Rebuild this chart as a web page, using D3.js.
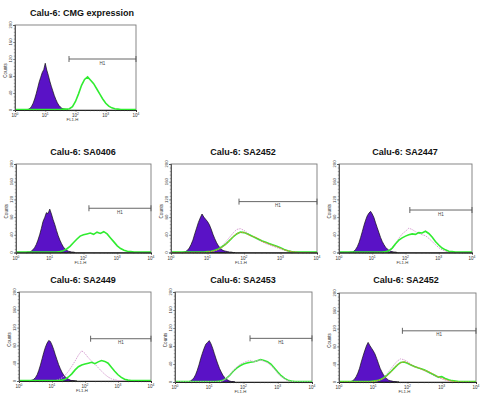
<!DOCTYPE html>
<html><head><meta charset="utf-8">
<script src="https://cdn.jsdelivr.net/npm/d3@7"></script>
<style>body{margin:0;background:#fff}</style>
</head><body><svg id="c" width="493" height="405"></svg>
<script>
// ---------- DATA ----------
const titles = ["Calu-6: CMG expression","Calu-6: SA0406","Calu-6: SA2452","Calu-6: SA2447","Calu-6: SA2449","Calu-6: SA2453","Calu-6: SA2452"];
const xTickExponents = ["0","1","2","3","4"];
const yTicks = [0,40,80,120,160,200];
const xAxisLabel = "FL1-H";
const yAxisLabel = "Counts";
const gateLabel = "H1";

// purple (control) histograms: bins every 0.05 decade starting at 10^0.3
const purpleStartLog = 0.3, purpleStepLog = 0.05;
const purple1 = [0,1,1,2,4,9,16,26,38,52,66,77,88,95,110,94,82,68,56,45,34,25,17,11,7,4,3,2,1,0];
const purple2 = [0,1,1,3,6,11,18,28,40,54,70,79,90,88,98,87,74,63,50,38,28,20,13,8,5,3,2,1,1,0];
const purple3 = [0,1,2,5,10,18,28,42,55,68,78,87,80,75,70,63,53,41,31,22,15,10,6,4,3,2,1,1,0,0];
const purple4 = [0,1,1,3,7,13,22,34,47,61,73,83,89,93,87,79,67,56,45,34,25,18,12,8,5,3,2,1,1,0];
const purple5 = [0,1,2,4,8,14,24,36,50,64,76,85,91,89,81,71,59,48,37,28,20,14,9,6,4,2,1,1,0,0];
const purple6 = [0,1,1,2,5,9,16,26,38,52,64,75,84,88,92,85,75,63,51,40,30,22,15,10,6,4,2,1,1,0];
const purple7 = [0,1,3,6,12,20,31,45,58,70,81,89,82,76,70,63,53,42,31,23,16,11,7,4,3,2,1,1,0,0];

// stained histograms: bins every 0.1 decade from 10^0 to 10^4
const stepLog = 0.1;
const green1 = [1,1,1,1,1,1,1,1,1,1,1,1,1,1,1,1,2,2,3,8,20,38,58,72,78,70,62,50,38,26,16,9,5,3,2,1,1,1,1,1,1];
const green2 = [1,1,1,1,1,1,1,1,1,1,1,1,1,2,4,8,14,22,30,37,40,42,44,41,46,43,47,42,33,24,15,9,5,3,2,1,1,1,1,1,1];
const green3 = [1,1,1,1,1,1,1,1,1,1,2,3,5,8,13,19,27,35,42,46,45,42,38,34,30,26,23,20,17,14,11,7,4,2,1,1,1,1,1,1,1];
const orange3 = [0,0,0,0,0,0,0,0,0,0,1,2,4,7,12,18,27,36,43,45,46,41,37,35,31,25,22,19,16,13,10,6,4,2,1,0,0,0,0,0,0];
const pink3 = [0,0,0,0,0,0,0,0,0,0,0,2,4,8,15,24,34,44,52,54,50,44,38,33,28,24,20,17,14,11,8,5,3,2,1,0,0,0,0,0,0];
const green4 = [1,1,1,1,1,1,1,1,1,1,1,1,1,1,2,4,10,20,28,33,37,40,42,41,45,44,48,43,35,25,17,10,6,3,2,1,1,1,1,1,1];
const pink4 = [0,0,0,0,0,0,0,0,0,0,0,0,0,0,0,2,8,18,32,42,48,55,52,47,44,40,38,32,25,18,11,6,3,1,0,0,0,0,0,0,0];
const green5 = [1,1,1,1,1,1,1,1,1,1,1,1,1,2,4,9,16,25,32,36,38,40,42,39,43,46,44,40,31,22,14,8,4,2,1,1,1,1,1,1,1];
const pink5 = [0,0,0,0,0,0,0,0,0,0,0,1,3,7,13,22,33,45,58,68,62,52,45,38,30,22,15,9,5,3,1,0,0,0,0,0,0,0,0,0,0];
const green6 = [1,1,1,1,1,1,1,1,1,1,1,1,1,2,4,8,15,24,31,36,40,42,44,45,47,50,48,45,40,31,22,14,8,4,2,1,1,1,1,1,1];
const pink6 = [0,0,0,0,0,0,0,0,0,0,0,0,0,0,3,8,16,25,33,39,43,46,48,45,47,49,46,43,37,29,20,12,7,3,1,0,0,0,0,0,0];
const green7 = [1,1,1,1,1,1,1,1,1,1,2,3,5,9,15,22,30,38,44,45,42,38,35,32,30,27,23,19,15,11,12,8,5,3,2,1,1,1,1,1,1];
const orange7 = [0,0,0,0,0,0,0,0,0,0,1,3,5,8,14,21,30,39,43,46,43,39,34,33,29,26,24,20,15,12,9,6,3,2,1,0,0,0,0,0,0];
const pink7 = [0,0,0,0,0,0,0,0,0,0,0,2,5,10,18,28,38,47,52,50,46,40,36,32,29,25,21,17,13,10,7,4,2,1,0,0,0,0,0,0,0];

// H1 gate: start channel and drawn count level (ends at 10^4)
const gateStart = [61,145,73,135,148,155,71];
const gateLevel = [120,100,115,96,95,97,115];

// ---------- LAYOUT ----------
const layout = [
  {x0:15, x1:136, y0:25,  y1:110, tx:82,  ty:15.5},
  {x0:16, x1:151, y0:164, y1:252.5, tx:83, ty:155},
  {x0:171,x1:317, y0:164, y1:252.5, tx:243, ty:155},
  {x0:339,x1:472, y0:164, y1:252.5, tx:405, ty:155},
  {x0:19, x1:151, y0:292, y1:381, tx:83, ty:283},
  {x0:175,x1:312, y0:292, y1:382, tx:243, ty:283},
  {x0:339,x1:476, y0:293, y1:382, tx:406, ty:283}
];
const panels = [
  {purple:purple1, lines:[{d:green1,c:"green"}]},
  {purple:purple2, lines:[{d:green2,c:"green"}]},
  {purple:purple3, lines:[{d:pink3,c:"pink"},{d:green3,c:"green"},{d:orange3,c:"orange"}]},
  {purple:purple4, lines:[{d:pink4,c:"pink"},{d:green4,c:"green"}]},
  {purple:purple5, lines:[{d:pink5,c:"pink"},{d:green5,c:"green"}]},
  {purple:purple6, lines:[{d:green6,c:"green"},{d:pink6,c:"pink"}]},
  {purple:purple7, lines:[{d:pink7,c:"pink"},{d:green7,c:"green"},{d:orange7,c:"orange"}]}
];
const colors = {purple:"#5a12c6", green:"#30ec30", pink:"#d7a0d2", orange:"#e8843c"};

const svg = d3.select("#c");
const font = "Liberation Sans, Arial, sans-serif";

panels.forEach((p, k) => {
  const L = layout[k];
  const g = svg.append("g");
  const x = d3.scaleLog().domain([1, 1e4]).range([L.x0, L.x1]);
  const y = d3.scaleLinear().domain([0, 200]).range([L.y1, L.y0]);

  g.append("text").attr("x", L.tx).attr("y", L.ty).attr("text-anchor","middle")
    .attr("font-family", font).attr("font-weight","bold").attr("font-size", 9)
    .attr("fill","#111").text(titles[k]);

  g.append("rect").attr("x", L.x0).attr("y", L.y0).attr("width", L.x1-L.x0).attr("height", L.y1-L.y0)
    .attr("fill","none").attr("stroke","#7a7a7a").attr("stroke-width",0.9);

  const pData = p.purple.map((v,i) => [Math.pow(10, purpleStartLog + i*purpleStepLog), v]);
  const area = d3.area().x(d => x(d[0])).y0(y(0)).y1(d => y(d[1]));
  g.append("path").attr("d", area(pData)).attr("fill", colors.purple)
    .attr("stroke","#111").attr("stroke-width",0.7);

  const line = d3.line().x(d => x(d[0])).y(d => y(d[1]));
  p.lines.forEach(s => {
    const data = s.d.map((v,i) => [Math.pow(10, i*stepLog), v]);
    const path = g.append("path").attr("d", line(data)).attr("fill","none")
      .attr("stroke", colors[s.c]);
    if (s.c === "green") path.attr("stroke-width", 1.6);
    else path.attr("stroke-width", 1).attr("stroke-dasharray","1.5,1");
  });

  const xMinor = [];
  for (let e=0;e<4;e++) for (let m=2;m<10;m++) xMinor.push(m*Math.pow(10,e));
  const xa = g.append("g").attr("transform",`translate(0,${L.y1})`)
    .call(d3.axisBottom(x).tickValues([1,10,100,1000,10000]).tickSize(2).tickFormat(""));
  xa.append("g").call(d3.axisBottom(x).tickValues(xMinor).tickSize(1.2).tickFormat(""));
  xa.selectAll("path.domain").attr("stroke","#222").attr("stroke-width",0.9);
  xa.selectAll("line").attr("stroke","#444").attr("stroke-width",0.5);

  const ya = g.append("g").attr("transform",`translate(${L.x0},0)`)
    .call(d3.axisLeft(y).tickValues(yTicks).tickSize(2).tickFormat(""));
  ya.append("g").call(d3.axisLeft(y).tickValues(d3.range(0,201,8)).tickSize(1.2).tickFormat(""));
  ya.selectAll("path.domain").attr("stroke","#555").attr("stroke-width",0.8);
  ya.selectAll("line").attr("stroke","#555").attr("stroke-width",0.5);

  xTickExponents.forEach((e,i) => {
    const t = g.append("text").attr("x", x(Math.pow(10,i))).attr("y", L.y1 + 7)
      .attr("text-anchor","middle").attr("font-family", font).attr("font-size", 4.5).attr("fill","#333");
    t.append("tspan").text("10");
    t.append("tspan").attr("dy",-1.6).attr("font-size",3.3).text(e);
  });
  yTicks.forEach(v => {
    g.append("text").attr("transform",`translate(${L.x0-3.5},${y(v)}) rotate(-90)`)
      .attr("text-anchor","middle").attr("font-family", font).attr("font-size", 4.2).attr("fill","#333").text(v);
  });
  g.append("text").attr("x",(L.x0+L.x1)/2 - 3).attr("y", L.y1+11).attr("text-anchor","middle")
    .attr("font-family", font).attr("font-size",4.3).attr("fill","#333").text(xAxisLabel);
  g.append("text").attr("transform",`translate(${L.x0-8.5},${(L.y0+L.y1)/2+3}) rotate(-90)`)
    .attr("text-anchor","middle").attr("font-family", font).attr("font-size",4.5).attr("fill","#333").text(yAxisLabel);

  const gx0 = x(gateStart[k]), gx1 = x(1e4), gy = y(gateLevel[k]);
  g.append("line").attr("x1",gx0).attr("x2",gx1).attr("y1",gy).attr("y2",gy).attr("stroke","#555").attr("stroke-width",0.9);
  [gx0,gx1].forEach(xx => g.append("line").attr("x1",xx).attr("x2",xx).attr("y1",gy-3).attr("y2",gy+3).attr("stroke","#555").attr("stroke-width",0.9));
  g.append("text").attr("x",(gx0+gx1)/2).attr("y",gy+5.5).attr("text-anchor","middle")
    .attr("font-family", font).attr("font-size",4.5).attr("fill","#444").text(gateLabel);
});
</script></body></html>
